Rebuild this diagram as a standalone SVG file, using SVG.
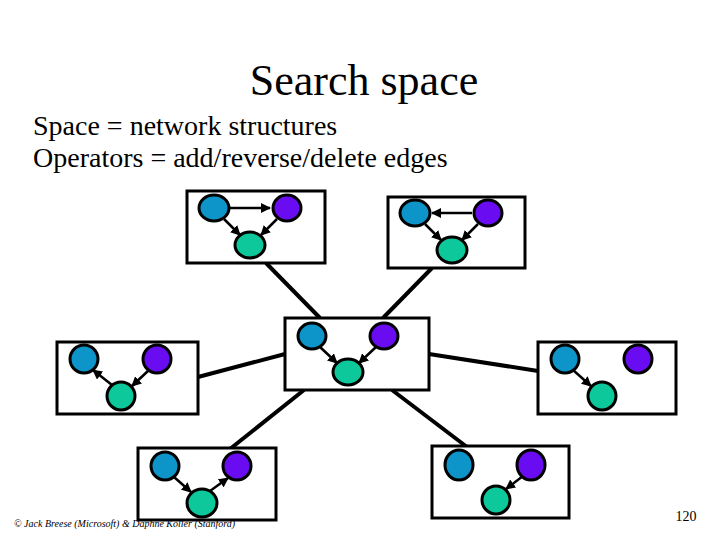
<svg xmlns="http://www.w3.org/2000/svg" width="720" height="540" viewBox="0 0 720 540">
<style>
.box{fill:#fff;stroke:#000;stroke-width:3}
.b{fill:#0d94c8;stroke:#000;stroke-width:3}
.p{fill:#6a0cf2;stroke:#000;stroke-width:3}
.g{fill:#0cc89a;stroke:#000;stroke-width:3}
.e{stroke:#000;stroke-width:2.5;marker-end:url(#ah)}
.c{stroke:#000;stroke-width:4}
text{font-family:"Liberation Serif",serif}
</style>
<defs><marker id="ah" viewBox="0 0 10 10" refX="9" refY="5" markerWidth="4" markerHeight="4" orient="auto"><path d="M0,0L10,5L0,10z"/></marker></defs>
<rect width="720" height="540" fill="#fff"/>
<text x="364" y="95" font-size="44" text-anchor="middle">Search space</text>
<text x="33" y="135" font-size="28">Space = network structures</text>
<text x="33" y="167" font-size="28">Operators = add/reverse/delete edges</text>
<g id="connectors">
<line class="c" x1="266" y1="263" x2="320" y2="318"/>
<line class="c" x1="432" y1="268" x2="383" y2="318"/>
<line class="c" x1="198" y1="377" x2="285" y2="354"/>
<line class="c" x1="429" y1="354" x2="538" y2="371"/>
<line class="c" x1="304" y1="390" x2="230" y2="449"/>
<line class="c" x1="392" y1="390" x2="467" y2="447"/>
</g>
<g id="A">
<rect class="box" x="187" y="191" width="138" height="72"/>
<line class="e" x1="230" y1="208" x2="270" y2="208"/>
<line class="e" x1="224" y1="219" x2="240" y2="235"/>
<line class="e" x1="277" y1="219" x2="261" y2="235"/>
<ellipse class="b" cx="214" cy="208" rx="15" ry="13"/><ellipse class="p" cx="287" cy="208" rx="14" ry="13"/><ellipse class="g" cx="250" cy="245" rx="15" ry="13"/>
</g>
<g id="B">
<rect class="box" x="388" y="197" width="137" height="71"/>
<line class="e" x1="472" y1="213" x2="432" y2="213"/>
<line class="e" x1="425" y1="224" x2="441" y2="240"/>
<line class="e" x1="478" y1="224" x2="462" y2="240"/>
<ellipse class="b" cx="415" cy="213" rx="15" ry="13"/><ellipse class="p" cx="488" cy="213" rx="14" ry="13"/><ellipse class="g" cx="452" cy="250" rx="15" ry="13"/>
</g>
<g id="C">
<rect class="box" x="285" y="318" width="144" height="72"/>
<line class="e" x1="320" y1="347" x2="337" y2="363"/>
<line class="e" x1="376" y1="347" x2="359" y2="363"/>
<ellipse class="b" cx="312" cy="336" rx="14" ry="13"/><ellipse class="p" cx="384" cy="336" rx="14" ry="13"/><ellipse class="g" cx="348" cy="372" rx="15" ry="13"/>
</g>
<g id="D">
<rect class="box" x="57" y="342" width="141" height="72"/>
<line class="e" x1="112" y1="385" x2="93" y2="370"/>
<line class="e" x1="149" y1="370" x2="132" y2="386"/>
<ellipse class="b" cx="84" cy="359" rx="14" ry="14"/><ellipse class="p" cx="157" cy="359" rx="14" ry="14"/><ellipse class="g" cx="121" cy="396" rx="14" ry="14"/>
</g>
<g id="E">
<rect class="box" x="538" y="342" width="138" height="72"/>
<line class="e" x1="573" y1="370" x2="591" y2="386"/>
<ellipse class="b" cx="565" cy="359" rx="14" ry="14"/><ellipse class="p" cx="638" cy="359" rx="14" ry="14"/><ellipse class="g" cx="602" cy="396" rx="14" ry="14"/>
</g>
<g id="F">
<rect class="box" x="138" y="448" width="138" height="72"/>
<line class="e" x1="174" y1="477" x2="191" y2="492"/>
<line class="e" x1="210" y1="491" x2="228" y2="478"/>
<ellipse class="b" cx="165" cy="466" rx="14" ry="14"/><ellipse class="p" cx="237" cy="466" rx="14" ry="14"/><ellipse class="g" cx="202" cy="503" rx="15" ry="14"/>
</g>
<g id="G">
<rect class="box" x="432" y="446" width="137" height="72"/>
<line class="e" x1="523" y1="476" x2="506" y2="489"/>
<ellipse class="b" cx="459" cy="465" rx="14" ry="15"/><ellipse class="p" cx="531" cy="465" rx="14" ry="15"/><ellipse class="g" cx="496" cy="500" rx="14" ry="14"/>
</g>
<text x="14" y="527" font-size="10" font-style="italic">© Jack Breese (Microsoft) &amp; Daphne Koller (Stanford)</text>
<text x="686" y="521" font-size="14" text-anchor="middle">120</text>
</svg>
